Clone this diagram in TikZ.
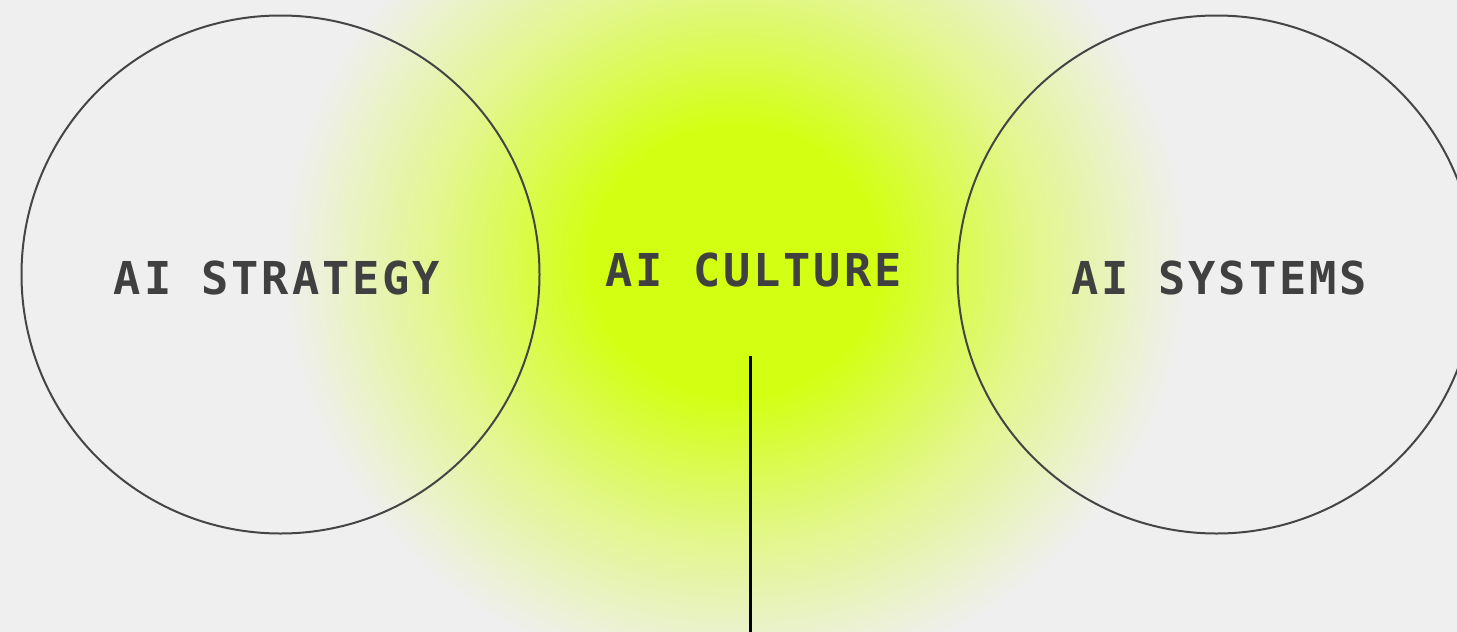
\documentclass[tikz,border=0pt]{standalone}
\usepackage{fontspec}
\newfontfamily\labelfont{DejaVu Sans Mono}[LetterSpace=6.4]

\definecolor{paper}{HTML}{EFEFEF}
\definecolor{glow}{HTML}{D3FF13}
\colorlet{glowmid}{glow!45!paper}
\definecolor{ink}{HTML}{404040}
\definecolor{rim}{HTML}{454545}

% soft lime halo behind the centre label (radius 50bp before scaling)
\pgfdeclareradialshading{halo}{\pgfpoint{0bp}{0bp}}{%
  color(0bp)=(glow); color(16bp)=(glow); color(33bp)=(glowmid);
  color(50bp)=(paper); color(100bp)=(paper)}

\tikzset{
  ring/.style={circle, draw=rim, line width=2pt, minimum size=518pt, inner sep=0pt},
  caption/.style={anchor=base, text=ink, inner sep=0pt,
    font=\labelfont\bfseries\fontsize{45.3}{50}\selectfont},
  stem/.style={draw=black, line width=3pt}
}

\begin{document}
\begin{tikzpicture}[x=1pt, y=-1pt]
  \useasboundingbox (0,0) rectangle (1457,632);
  \clip (0,0) rectangle (1457,632);
  \fill[paper] (0,0) rectangle (1457,632);

  \begin{scope}[shift={(735,262)}, xscale=9, yscale=8.4]
    \node[inner sep=0pt, transform shape] (halo) {\pgfuseshading{halo}};
  \end{scope}

  \node[ring] (strategy) at (280.5,274.5) {};
  \node[ring] (systems) at (1216.5,274.5) {};

  \node[caption] (strategyText) at (277,294) {AI STRATEGY};
  \node[caption] (cultureText) at (753.5,286) {AI CULTURE};
  \node[caption] (systemsText) at (1219,294) {AI SYSTEMS};

  \coordinate (stemTop) at (750,356);
  \coordinate (stemEnd) at (750,632);
  \draw[stem] (stemTop) -- (stemEnd);
\end{tikzpicture}
\end{document}
